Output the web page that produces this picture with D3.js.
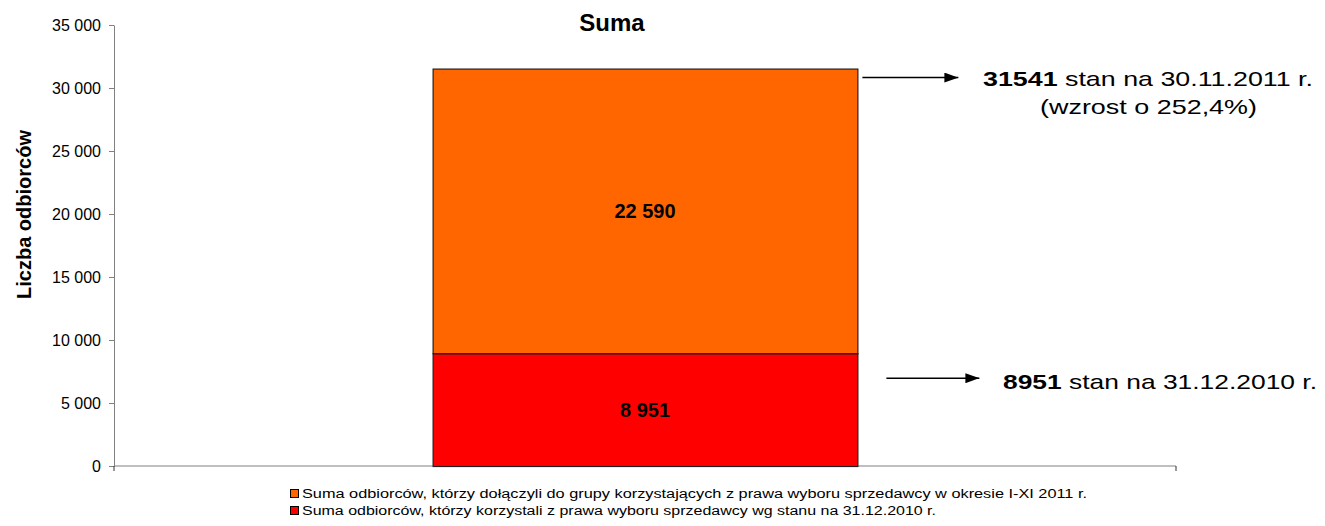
<!DOCTYPE html>
<html><head><meta charset="utf-8">
<script src="https://cdn.jsdelivr.net/npm/d3@7"></script>
<style>
html,body{margin:0;padding:0;background:#fff;}
svg{display:block;font-family:"Liberation Sans",Arial,sans-serif;}
</style></head>
<body><svg id="chart" width="1325" height="526"></svg>
<script>
// ---- data ----
const categories = ["Suma"];
const seriesNames = [
  "Suma odbiorców, którzy korzystali z prawa wyboru sprzedawcy wg stanu na 31.12.2010 r.",
  "Suma odbiorców, którzy dołączyli do grupy korzystających z  prawa wyboru sprzedawcy w okresie I-XI  2011 r."
];
const baseValues = [8951];     // stan na 31.12.2010
const addedValues = [22590];   // przyrost I-XI 2011
const seriesColors = ["#FF0000", "#FF6600"];
const yTicks = [0, 5000, 10000, 15000, 20000, 25000, 30000, 35000];
const yMax = 35000;
const chartTitle = "Suma";
const yTitle = "Liczba odbiorców";
const totalLabel = "31541";
const totalText = " stan na 30.11.2011 r.";
const growthText = "(wzrost o 252,4%)";
const baseLabel = "8951";
const baseText = " stan na 31.12.2010 r.";

// ---- layout ----
const svg = d3.select("#chart");
const plot = {left: 114, right: 1176, top: 25, bottom: 466};
const fmt = d3.formatLocale({decimal: ",", thousands: " ", grouping: [3], currency: ["", ""]}).format(",d");

const y = d3.scaleLinear().domain([0, yMax]).range([plot.bottom, plot.top]);
const x = d3.scaleBand().domain(categories).range([plot.left, plot.right]).padding(0.4286);

// stacked data
const rows = categories.map((c, i) => ({cat: c, base: baseValues[i], added: addedValues[i]}));
const stack = d3.stack().keys(["base", "added"])(rows);

// y axis
const yAxis = svg.append("g").attr("transform", `translate(${plot.left},0)`)
  .call(d3.axisLeft(y).tickValues(yTicks).tickFormat(fmt).tickSize(5).tickSizeOuter(0).tickPadding(8));
yAxis.attr("font-size", 16).attr("font-family", "Liberation Sans, Arial, sans-serif");
yAxis.select(".domain").attr("stroke", "#808080");
yAxis.selectAll(".tick line").attr("stroke", "#808080");
yAxis.selectAll(".tick text").attr("fill", "#000");

// x axis (category boundaries)
const xAxisG = svg.append("g");
xAxisG.append("line").attr("x1", plot.left).attr("x2", plot.right)
  .attr("y1", y(0)).attr("y2", y(0)).attr("stroke", "#808080");
xAxisG.selectAll("line.b").data(x.range()).join("line").attr("class", "b")
  .attr("x1", d => d).attr("x2", d => d).attr("y1", y(0)).attr("y2", y(0) + 5).attr("stroke", "#333");

// bars
stack.forEach((layer, si) => {
  svg.append("g").selectAll("rect").data(layer).join("rect")
    .attr("x", d => x(d.data.cat) + 0.5)
    .attr("width", x.bandwidth())
    .attr("y", d => y(d[1]) + 0.5)
    .attr("height", d => y(d[0]) - y(d[1]))
    .attr("fill", seriesColors[si])
    .attr("stroke", "#231f20").attr("stroke-width", 1.2);
  svg.append("g").selectAll("text").data(layer).join("text")
    .attr("x", d => x(d.data.cat) + x.bandwidth() / 2)
    .attr("y", d => (y(d[0]) + y(d[1])) / 2)
    .attr("dy", "0.36em")
    .attr("text-anchor", "middle")
    .attr("font-size", 20).attr("font-weight", "bold")
    .text(d => fmt(d[1] - d[0]));
});

// title
svg.append("text").attr("x", 612).attr("y", 31).attr("text-anchor", "middle")
  .attr("font-size", 24).attr("font-weight", "bold").text(chartTitle);

// y title
svg.append("text").attr("transform", `translate(31,${(plot.top + plot.bottom) / 2 - 31}) rotate(-90)`)
  .attr("text-anchor", "middle").attr("font-size", 20).attr("font-weight", "bold").text(yTitle);

// arrows + annotations
const defs = svg.append("defs");
defs.append("marker").attr("id", "arr").attr("viewBox", "0 0 14 10").attr("refX", 14).attr("refY", 5)
  .attr("markerWidth", 14).attr("markerHeight", 10).attr("markerUnits", "userSpaceOnUse").attr("orient", "auto")
  .append("path").attr("d", "M0,0 L14,5 L0,10 Z").attr("fill", "#000");

const barRight = x(categories[0]) + x.bandwidth();
const totalY = y(baseValues[0] + addedValues[0]);
const baseY = y(baseValues[0]);

svg.append("line").attr("x1", barRight + 5).attr("x2", barRight + 101)
  .attr("y1", totalY + 9).attr("y2", totalY + 9)
  .attr("stroke", "#000").attr("stroke-width", 1.5).attr("marker-end", "url(#arr)");
svg.append("line").attr("x1", barRight + 29).attr("x2", barRight + 122)
  .attr("y1", baseY + 25).attr("y2", baseY + 25)
  .attr("stroke", "#000").attr("stroke-width", 1.5).attr("marker-end", "url(#arr)");

function fitText(sel, w) {
  const n = sel.node().getComputedTextLength();
  if (n > 0) sel.attr("textLength", w).attr("lengthAdjust", "spacingAndGlyphs");
}

const t1 = svg.append("text").attr("x", 983).attr("y", totalY + 17).attr("font-size", 21);
t1.append("tspan").attr("font-weight", "bold").text(totalLabel);
t1.append("tspan").text(totalText);
fitText(t1, 330);
const t2 = svg.append("text").attr("x", 1040).attr("y", totalY + 45).attr("font-size", 21).text(growthText);
fitText(t2, 217);
const t3 = svg.append("text").attr("x", 1003).attr("y", baseY + 36).attr("font-size", 21);
t3.append("tspan").attr("font-weight", "bold").text(baseLabel);
t3.append("tspan").text(baseText);
fitText(t3, 314);

// legend (reversed order: top = added)
const legendItems = [1, 0];
const legendWidths = [785, 634];
legendItems.forEach((si, i) => {
  const gy = 489 + i * 17;
  svg.append("rect").attr("x", 290.5).attr("y", gy + 0.5).attr("width", 8).attr("height", 8)
    .attr("fill", seriesColors[si]).attr("stroke", "#000").attr("stroke-width", 1);
  const t = svg.append("text").attr("x", 302).attr("y", gy + 9).attr("font-size", 12).text(seriesNames[si]);
  fitText(t, legendWidths[i]);
});
</script>
</body></html>
